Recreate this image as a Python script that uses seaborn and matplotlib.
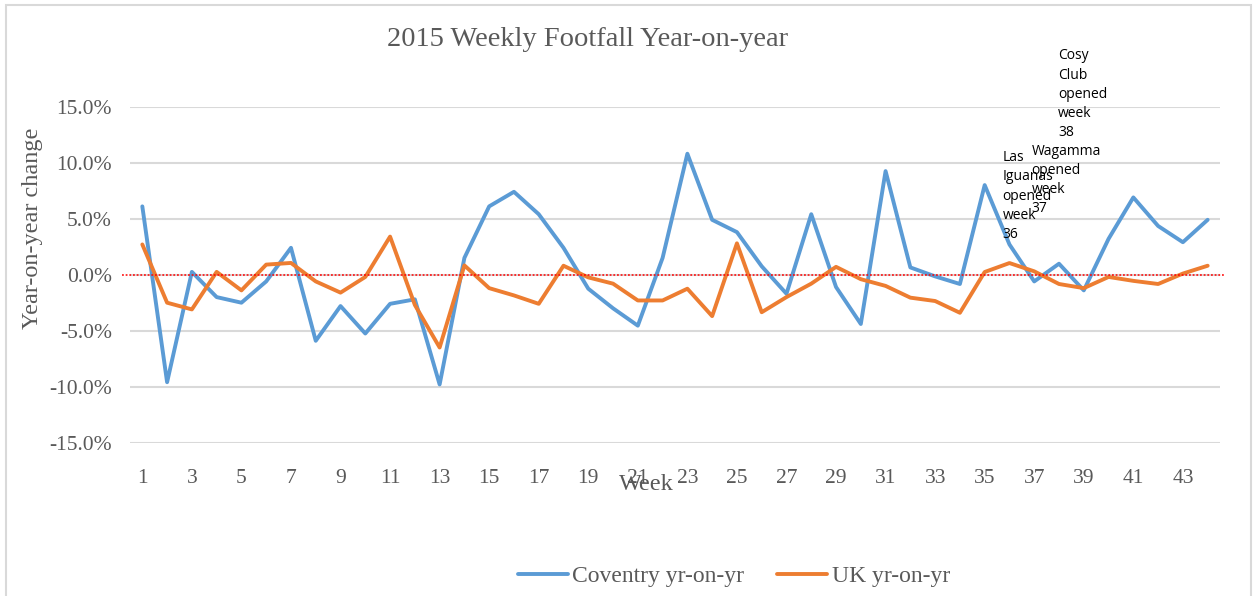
import pandas as pd
import matplotlib.pyplot as plt
import matplotlib.patches as mpatches
from matplotlib.ticker import FuncFormatter
import seaborn as sns

# Dados (variação anual em %)
semanas = list(range(1, 45))
coventry = [6.1, -9.6, 0.25, -2.0, -2.5, -0.6, 2.4, -5.9, -2.8, -5.25, -2.6, -2.2, -9.8,
            1.5, 6.1, 7.4, 5.4, 2.4, -1.25, -3.0, -4.55, 1.5, 10.8, 4.9, 3.8, 0.75, -1.7,
            5.4, -1.1, -4.4, 9.25, 0.65, -0.15, -0.83, 8.0, 2.7, -0.6, 0.98, -1.4, 3.2,
            6.9, 4.35, 2.9, 4.9]
uk = [2.7, -2.5, -3.1, 0.25, -1.4, 0.9, 1.05, -0.6, -1.6, -0.2, 3.4, -2.7, -6.5,
      0.83, -1.2, -1.85, -2.6, 0.8, -0.24, -0.8, -2.3, -2.3, -1.25, -3.7, 2.8, -3.35, -2.0,
      -0.8, 0.7, -0.4, -1.0, -2.05, -2.35, -3.4, 0.24, 1.04, 0.3, -0.83, -1.2, -0.2,
      -0.55, -0.83, 0.1, 0.8]
series = ['Coventry yr-on-yr', 'UK yr-on-yr']
cores = ['#5B9BD5', '#ED7D31']

notas = ['Las\nIguanas\nopened\nweek\n36', 'Wagamma\nopened\nweek\n37',
         'Cosy\nClub\nopened\nweek\n38']
notas_x = [35.72, 36.89, 37.97]
notas_y = [11.1, 11.7, 20.2]

df = pd.DataFrame({
    'Week': semanas * 2,
    'Valor': coventry + uk,
    'Serie': [series[0]] * len(semanas) + [series[1]] * len(semanas),
})

sns.set_theme(style="white")
plt.rcParams['font.family'] = ['Liberation Serif', 'DejaVu Serif']
cinza = '#595959'

fig = plt.figure(figsize=(12.53, 5.96), dpi=100)
ax = fig.add_axes([0.1037, 0.2572, 0.870, 0.5638])

# borda da área do gráfico
fig.patches.append(mpatches.Rectangle((6 / 1253, -0.01), 1245 / 1253, 1.01 - 5 / 596,
                                      transform=fig.transFigure, fill=False,
                                      edgecolor='#D9D9D9', linewidth=1.5))

sns.lineplot(data=df, x='Week', y='Valor', hue='Serie', palette=cores, linewidth=2.8,
             ax=ax, legend=True, zorder=3)

ax.axhline(0, xmin=-0.007, xmax=1.004, color='red', linestyle=(0, (1.2, 1.2)),
           linewidth=1.1, clip_on=False, zorder=4)

ax.set_xlim(0.5, 44.5)
ax.set_ylim(-15, 15)
ax.set_yticks([-15, -10, -5, 0, 5, 10, 15])
ax.set_xticks(list(range(1, 44, 2)))
ax.yaxis.set_major_formatter(FuncFormatter(lambda v, p: f"{v:.1f}%"))
ax.grid(axis='y', color='#D9D9D9', linewidth=1.5)
ax.set_axisbelow(True)
for s in ax.spines.values():
    s.set_visible(False)
ax.tick_params(axis='both', length=0, labelsize=15.5, labelcolor=cinza)
ax.tick_params(axis='x', pad=19)
ax.tick_params(axis='y', pad=13)

ax.set_xlabel('')
ax.set_ylabel('')
fig.text(646 / 1253, 1 - 485 / 596, 'Week', ha='center', va='center', fontsize=17.5, color=cinza)
fig.text(33 / 1253, 1 - 228 / 596, 'Year-on-year change', ha='center', va='center',
         rotation=90, fontsize=17.5, color=cinza)
fig.text(588 / 1253, 1 - 39 / 596, '2015 Weekly Footfall Year-on-year', ha='center',
         va='center', fontsize=20.5, color=cinza)

for txt, xx, yy in zip(notas, notas_x, notas_y):
    ax.text(xx, yy, txt, ha='left', va='top', fontsize=10, color='black',
            family=['Open Sans', 'DejaVu Sans'], linespacing=1.37, clip_on=False, zorder=5)

leg = ax.legend(loc='center', bbox_to_anchor=(734 / 1253, 1 - 576 / 596),
                bbox_transform=fig.transFigure, ncol=2, frameon=False, fontsize=17,
                handlelength=2.1, handletextpad=0.2, columnspacing=1.4)
for t in leg.get_texts():
    t.set_color(cinza)
for h in leg.get_lines():
    h.set_linewidth(2.8)

fig.savefig('out.png', dpi=100)
